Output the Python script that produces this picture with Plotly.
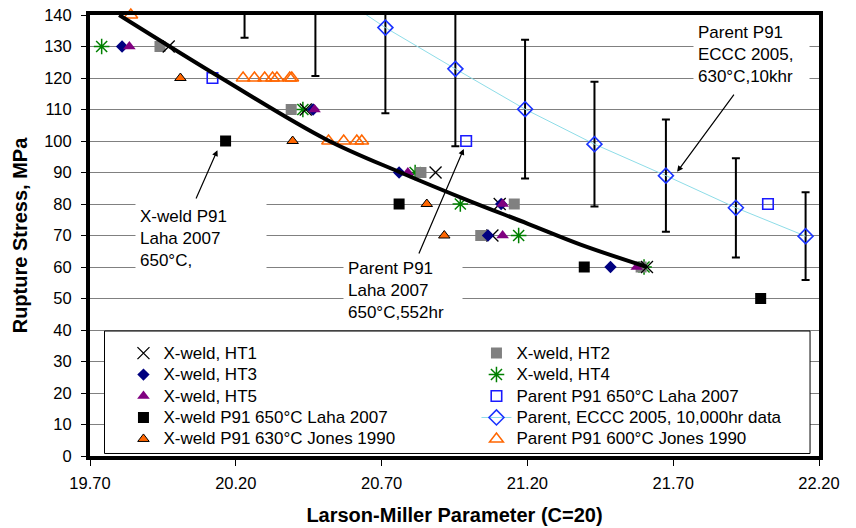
import plotly.graph_objects as go

# ---------------- data ----------------
stress_rows = [130, 110, 90, 80, 70, 60]

ht1_lmp = [19.97, 20.44, 20.885, 21.105, 21.08, 21.61]
ht2_lmp = [19.94, 20.39, 20.835, 21.155, 21.04, 21.59]
ht3_lmp = [19.81, 20.465, 20.76, 21.11, 21.065, 21.485]
ht4_lmp = [19.74, 20.43, 20.815, 20.97, 21.17, 21.60]
ht5_lmp = [19.835, 20.47, 20.79, 21.115, 21.115, 21.575]

xl_laha_lmp = [20.165, 20.76, 21.395, 22.0]
xl_laha_stress = [100, 80, 60, 50]

xl_jones_lmp = [20.01, 20.395, 20.855, 20.915]
xl_jones_stress = [120, 100, 80, 70]

par_laha_lmp = [20.12, 20.99, 22.025]
par_laha_stress = [120, 100, 80]

eccc_lmp = [20.23, 20.473, 20.713, 20.953, 21.192, 21.43, 21.675, 21.915, 22.154]
eccc_stress = [166, 150.8, 136.0, 122.9, 110.1, 99.0, 89.0, 78.8, 69.8]
eccc_err_pct = 20

par_jones_lmp = [19.84, 20.225, 20.264, 20.299, 20.326, 20.341, 20.385, 20.392,
                 20.518, 20.57, 20.615, 20.632]
par_jones_stress = [140, 120, 120, 120, 120, 120, 120, 120, 100, 100, 100, 100]

trend_lmp = [19.80, 20.15, 20.51, 20.765, 21.0, 21.2, 21.38, 21.61]
trend_stress = [140, 120, 100.5, 90, 81, 73.8, 67.2, 60]

x_ticks = [19.70, 20.20, 20.70, 21.20, 21.70, 22.20]

FONT = "Liberation Sans, Arial, sans-serif"


def nm(s):
    return f'<span style="font-size:17px">{s}</span>'


fig = go.Figure()

fig.add_trace(go.Scatter(
    x=eccc_lmp, y=eccc_stress, mode="lines+markers",
    name=nm("Parent, ECCC 2005, 10,000hr data"), legendrank=8,
    line=dict(color="#8EDDE8", width=1),
    marker=dict(symbol="diamond-open", size=11.5, color="#1a33ff",
                line=dict(width=1.6, color="#1a33ff")),
    error_y=dict(type="percent", value=eccc_err_pct, color="black", thickness=2, width=4),
))
fig.add_trace(go.Scatter(
    x=par_jones_lmp, y=par_jones_stress, mode="markers", cliponaxis=False,
    name=nm("Parent P91 600°C Jones 1990"), legendrank=10,
    marker=dict(symbol="triangle-up-open", size=12, color="#FF6600",
                line=dict(width=1.5, color="#FF6600")),
))
fig.add_trace(go.Scatter(
    x=par_laha_lmp, y=par_laha_stress, mode="markers",
    name=nm("Parent P91 650°C Laha 2007"), legendrank=6,
    marker=dict(symbol="square-open", size=10.5, color="#1a1aff",
                line=dict(width=1.6, color="#1a1aff")),
))
fig.add_trace(go.Scatter(
    x=xl_laha_lmp, y=xl_laha_stress, mode="markers",
    name=nm("X-weld P91 650°C Laha 2007"), legendrank=7,
    marker=dict(symbol="square", size=11, color="black"),
))
fig.add_trace(go.Scatter(
    x=xl_jones_lmp, y=xl_jones_stress, mode="markers",
    name=nm("X-weld P91 630°C Jones 1990"), legendrank=9,
    marker=dict(symbol="triangle-up", size=10, color="#FF6600",
                line=dict(width=1, color="black")),
))
fig.add_trace(go.Scatter(
    x=ht4_lmp, y=stress_rows, mode="markers",
    name=nm("X-weld, HT4"), legendrank=4,
    marker=dict(symbol="asterisk-open", size=13, color="#008000",
                line=dict(width=1.5, color="#008000")),
))
fig.add_trace(go.Scatter(
    x=ht2_lmp, y=stress_rows, mode="markers",
    name=nm("X-weld, HT2"), legendrank=2,
    marker=dict(symbol="square", size=11, color="#808080"),
))
fig.add_trace(go.Scatter(
    x=ht1_lmp, y=stress_rows, mode="markers",
    name=nm("X-weld, HT1"), legendrank=1,
    marker=dict(symbol="x-thin-open", size=12, color="black",
                line=dict(width=1.3, color="black")),
))
fig.add_trace(go.Scatter(
    x=ht3_lmp, y=stress_rows, mode="markers",
    name=nm("X-weld, HT3"), legendrank=3,
    marker=dict(symbol="diamond", size=9.5, color="#000080"),
))
fig.add_trace(go.Scatter(
    x=ht5_lmp, y=stress_rows, mode="markers",
    name=nm("X-weld, HT5"), legendrank=5,
    marker=dict(symbol="triangle-up", size=11, color="#800080"),
))
fig.add_trace(go.Scatter(
    x=trend_lmp, y=trend_stress, mode="lines", showlegend=False,
    line=dict(color="black", width=4, shape="spline", smoothing=1.0),
))

# ---------------- annotations ----------------
txt_font = dict(family=FONT, size=17, color="black")
texts = [
    (19.856, 80.5, "X-weld P91<br>Laha 2007<br>650°C,", 122, 66),
    (20.5688, 64.0, "Parent P91<br>Laha 2007<br>650°C,552hr", 110, 62),
    (21.768, 139.0, "Parent P91<br>ECCC 2005,<br>630°C,10khr", 107, 63),
]
annos = []
for x, y, t, w, h in texts:
    annos.append(dict(x=x, y=y, xref="x", yref="y", text=t, showarrow=False,
                      xanchor="left", yanchor="top", align="left", valign="top",
                      width=w, height=h, borderpad=4, bgcolor="white", font=txt_font))
arrows = [
    (20.137, 97.1, 20.0615, 81.3),
    (20.9817, 97.5, 20.8258, 63.8),
    (21.7134, 90.2, 21.912, 115.2),
]
for hx, hy, tx, ty in arrows:
    annos.append(dict(x=hx, y=hy, ax=tx, ay=ty, xref="x", yref="y", axref="x", ayref="y",
                      text="", showarrow=True, arrowhead=2, arrowsize=1, arrowwidth=1.2,
                      arrowcolor="black", standoff=0, startstandoff=0))

fig.update_layout(
    width=856, height=528,
    margin=dict(l=90, r=37, t=15, b=72),
    paper_bgcolor="white", plot_bgcolor="white",
    font=dict(family=FONT, color="black"),
    showlegend=True,
    legend=dict(orientation="h", x=0.0459, xanchor="left", y=0.269, yanchor="top",
                entrywidth=308, entrywidthmode="pixels", bgcolor="rgba(0,0,0,0)",
                borderwidth=0, font=dict(family=FONT, size=14.2, color="black")),
    annotations=annos,
    shapes=[dict(type="rect", xref="paper", yref="paper", x0=0.0199, x1=0.9877,
                 y0=0.0057, y1=0.2834, fillcolor="white",
                 line=dict(color="black", width=1), layer="above")],
)
fig.update_xaxes(
    range=[19.70, 22.20], tickvals=x_ticks, ticktext=[f"{v:.2f}" for v in x_ticks],
    showgrid=False, zeroline=False, showline=True, linewidth=4, linecolor="black",
    mirror=True, ticks="outside", ticklen=6, tickwidth=1, tickcolor="black",
    ticklabelstandoff=3, automargin=False,
    tickfont=dict(family=FONT, size=16.5, color="black"),
    title=dict(text="<b>Larson-Miller Parameter (C=20)</b>",
               font=dict(family=FONT, size=20, color="black"), standoff=18),
)
fig.update_yaxes(
    range=[0, 140], dtick=10, tick0=0,
    showgrid=True, gridcolor="#808080", gridwidth=1, zeroline=False,
    showline=True, linewidth=4, linecolor="black", mirror=True,
    ticks="outside", ticklen=5, tickwidth=1, tickcolor="black",
    ticklabelstandoff=6, automargin=False,
    tickfont=dict(family=FONT, size=16.5, color="black"),
    title=dict(text="<b>Rupture Stress, MPa</b>",
               font=dict(family=FONT, size=20, color="black"), standoff=12),
)

fig.write_html("out.html")
